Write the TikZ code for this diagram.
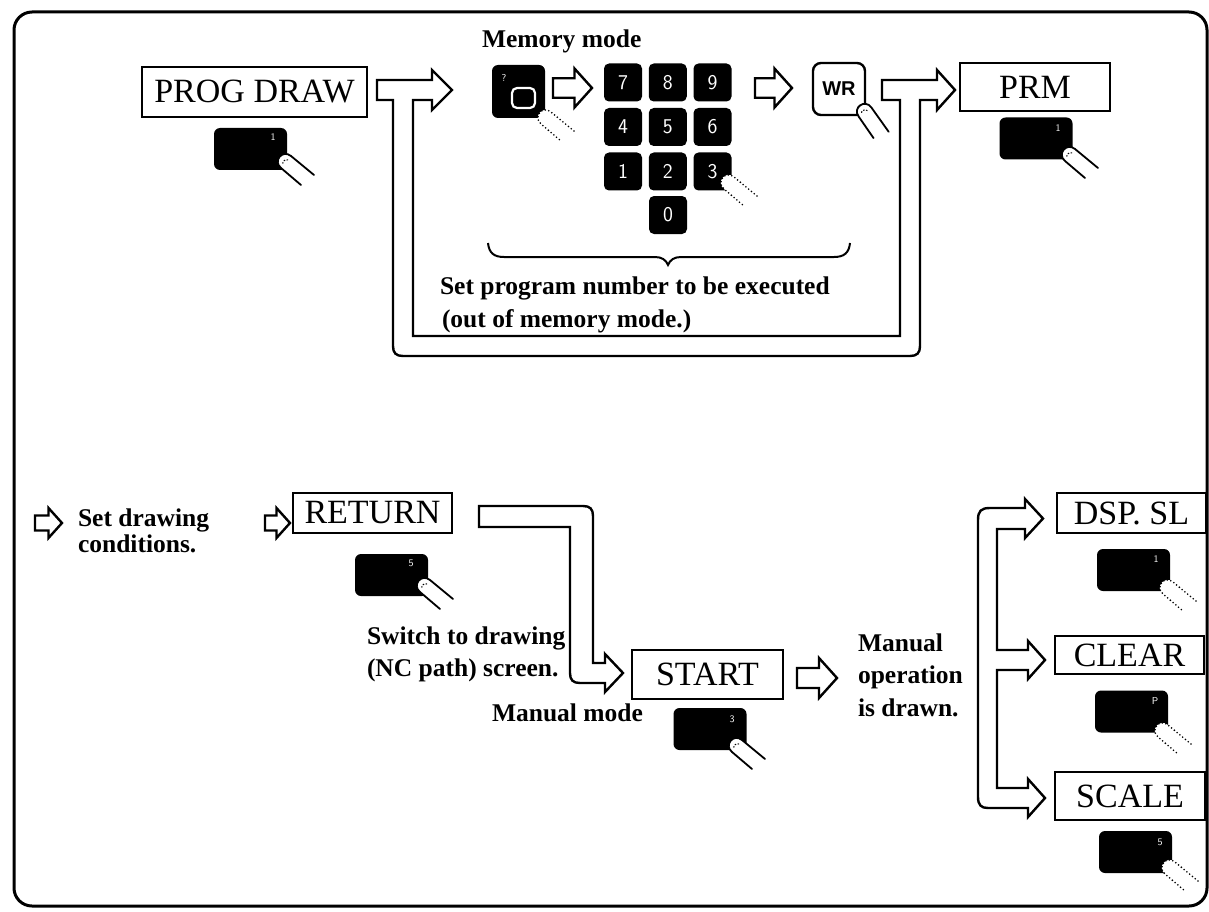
\documentclass[tikz,border=0pt]{standalone}
\usepackage{fontspec}
\setmainfont{Liberation Serif}
\newfontfamily\capfont{Liberation Sans}
% hollow block arrow: from x0 to x1 at height yc, head height H
\newcommand\hollowarrow[4]{%
  \pgfmathsetmacro\ha{#4/2}\pgfmathsetmacro\hs{#4/4}\pgfmathsetmacro\hx{#2-0.45*#4}%
  \draw[hollow] (#1,#3-\hs) -- (\hx,#3-\hs) -- (\hx,#3-\ha) -- (#2,#3) -- (\hx,#3+\ha) -- (\hx,#3+\hs) -- (#1,#3+\hs) -- cycle;}
\begin{document}
\begin{tikzpicture}[x=1pt,y=-1pt,
  every node/.style={inner sep=0pt, outer sep=0pt},
  frame/.style={line width=3pt, rounded corners=18pt},
  namebox/.style={draw, line width=1.8pt, font=\fontsize{34}{40}\selectfont},
  keycap/.style={fill=black, rounded corners=6pt, minimum width=73pt, minimum height=42pt},
  padkey/.style={fill=black, rounded corners=5pt, minimum width=38pt, minimum height=38pt,
    text=white, font=\sffamily\fontsize{21}{21}\selectfont},
  keymark/.style={text=white, font=\sffamily\fontsize{10}{10}\selectfont},
  caption/.style={font=\bfseries\fontsize{25.5}{30}\selectfont, anchor=base west},
  hollow/.style={draw, line width=2.4pt, line join=miter, fill=white},
  handline/.style={line width=1.8pt, line cap=round},
  dotline/.style={line width=1.8pt, line cap=round, dash pattern=on 0pt off 3.6pt},
  hand/.pic={
    \fill[white] (5,-6) -- (28,13) -- (15,23) -- (-5,6) .. controls (-13.5,-1) and (-3.5,-13) .. (5,-6) -- cycle;
    \draw[handline] (28,13) -- (5,-6) .. controls (-3.5,-13) and (-13.5,-1) .. (-5,6) -- (15,23);
    \draw[line width=1pt, dash pattern=on 1.5pt off 1.5pt] (2,-2) .. controls (-2,-3) and (-4,0) .. (-3,3);
  },
  dhand/.pic={
    \fill[white] (5,-6) -- (28,13) -- (15,23) -- (-5,6) .. controls (-13.5,-1) and (-3.5,-13) .. (5,-6) -- cycle;
    \draw[dotline] (28,13) -- (5,-6) .. controls (-3.5,-13) and (-13.5,-1) .. (-5,6) -- (15,23);
  },
]
\useasboundingbox (0,0) rectangle (1209,912);

% outer frame
\draw[frame] (14,12) rectangle (1207,906);

% ---------- upper row ----------
\node[namebox, minimum width=225pt, minimum height=50pt] (prog) at (254.5,92) {PROG DRAW};
\node[keycap] (kprog) at (250.5,149) {};
\node[keymark] at (273,137) {1};
\pic at (286,162) {hand};

% T-shaped loop arrow: PROG DRAW -> memory mode, WR -> PRM
\draw[hollow] (377,80) -- (432,80) -- (432,70) -- (452,90) -- (432,110) -- (432,100) -- (413,100)
  -- (413,336) -- (900,336) -- (900,100) -- (882,100) -- (882,80) -- (937,80) -- (937,70)
  -- (955,90) -- (937,110) -- (937,100) -- (920,100) -- (920,346)
  .. controls (920,353) and (917,356) .. (910,356) -- (403,356)
  .. controls (396,356) and (393,353) .. (393,346) -- (393,100) -- (377,100) -- cycle;

\node[caption] (memmode) at (482,48) {Memory mode};

% memory key
\node[fill=black, rounded corners=6pt, minimum width=53pt, minimum height=53pt] (kmem) at (518.5,91.5) {};
\draw[white, line width=2.2pt, rounded corners=5pt] (512,88) rectangle (535,108);
\node[keymark] at (504,78) {?};
\pic at (546,118) {dhand};

\hollowarrow{553}{592}{88}{39}

% numeric keypad
\foreach \d/\c/\r in {7/0/0,8/1/0,9/2/0,4/0/1,5/1/1,6/2/1,1/0/2,2/1/2,3/2/2}
  \node[padkey] (pad\d) at (623+44.75*\c, 82.5+44.5*\r) {\d};
\node[padkey] (pad0) at (668,215) {0};
\pic at (729,183) {dhand};

\hollowarrow{755}{792}{88}{39}

% WR key
\node[draw, fill=white, line width=2.4pt, rounded corners=8pt, minimum width=52pt, minimum height=52pt,
  font=\capfont\bfseries\fontsize{20}{20}\selectfont] (kwr) at (839,89) {WR};
\pic[rotate=-15] at (865,112) {hand};

% brace under the keypad
\draw[line width=2pt] (488,243) .. controls (489,253) and (494,257) .. (504,257) -- (655,257)
  .. controls (662,257) and (666,260) .. (668,265) .. controls (670,260) and (674,257) .. (681,257)
  -- (834,257) .. controls (844,257) and (849,253) .. (850,243);
\node[caption] (setprog1) at (440,294) {Set program number to be executed};
\node[caption] (setprog2) at (442,327) {(out of memory mode.)};

% PRM
\node[namebox, minimum width=150pt, minimum height=48pt] (prm) at (1035,87) {PRM};
\node[keycap] (kprm) at (1036,138.5) {};
\node[keymark] at (1058,128) {1};
\pic at (1070,155) {hand};

% ---------- lower row ----------
\hollowarrow{35}{62}{523}{30}
\node[caption] (cond1) at (78,526) {Set drawing};
\node[caption] (cond2) at (78,552) {conditions.};

\hollowarrow{265}{290}{523}{30}
\node[namebox, minimum width=159pt, minimum height=40pt] (ret) at (372.5,513) {RETURN};
\node[keycap] (kret) at (391.5,575) {};
\node[keymark] at (411,563) {5};
\pic at (425,586) {hand};
\node[caption] (sw1) at (367,644) {Switch to drawing};
\node[caption] (sw2) at (367,676) {(NC path) screen.};

% RETURN -> START
\draw[hollow] (479,506) -- (583,506) .. controls (590,506) and (593,509) .. (593,516) -- (593,663)
  -- (605,663) -- (605,654) -- (623,673) -- (605,692) -- (605,683) -- (580,683)
  .. controls (573,683) and (570,680) .. (570,673) -- (570,527) -- (479,527) -- cycle;

\node[namebox, minimum width=151pt, minimum height=49pt] (start) at (707.5,674.5) {START};
\node[keycap] (kstart) at (710,729) {};
\node[keymark] at (732,719) {3};
\pic at (737,746) {hand};
\node[caption] (manmode) at (492,721) {Manual mode};

\hollowarrow{797}{837}{678}{40}
\node[caption] (man1) at (858,651) {Manual};
\node[caption] (man2) at (858,683) {operation};
\node[caption] (man3) at (858,716) {is drawn.};

% three-way fork
\draw[hollow] (1025,529) -- (997,529) -- (997,650) -- (1028,650) -- (1028,641) -- (1045,660)
  -- (1028,679) -- (1028,670) -- (997,670) -- (997,788) -- (1028,788) -- (1028,779) -- (1045,798)
  -- (1028,817) -- (1028,808) -- (988,808) .. controls (981,808) and (978,805) .. (978,797)
  -- (978,520) .. controls (978,511) and (981,508) .. (990,508) -- (1025,508) -- (1025,499)
  -- (1043,518.5) -- (1025,538) -- cycle;

\node[namebox, minimum width=149pt, minimum height=40pt] (dsp) at (1131.5,513) {DSP. SL};
\node[keycap] (kdsp) at (1133.5,570) {};
\node[keymark] at (1156,559) {1};
\pic at (1168,588) {dhand};

\node[namebox, minimum width=149pt, minimum height=38pt] (clear) at (1129.5,655) {CLEAR};
\node[keycap] (kclear) at (1131.5,711.5) {};
\node[keymark] at (1155,701) {P};
\pic at (1163,731) {dhand};

\node[namebox, minimum width=150pt, minimum height=48pt] (scale) at (1130,796) {SCALE};
\node[keycap] (kscale) at (1135.5,852) {};
\node[keymark] at (1160,842) {5};
\pic at (1170,868) {dhand};
\end{tikzpicture}
\end{document}
